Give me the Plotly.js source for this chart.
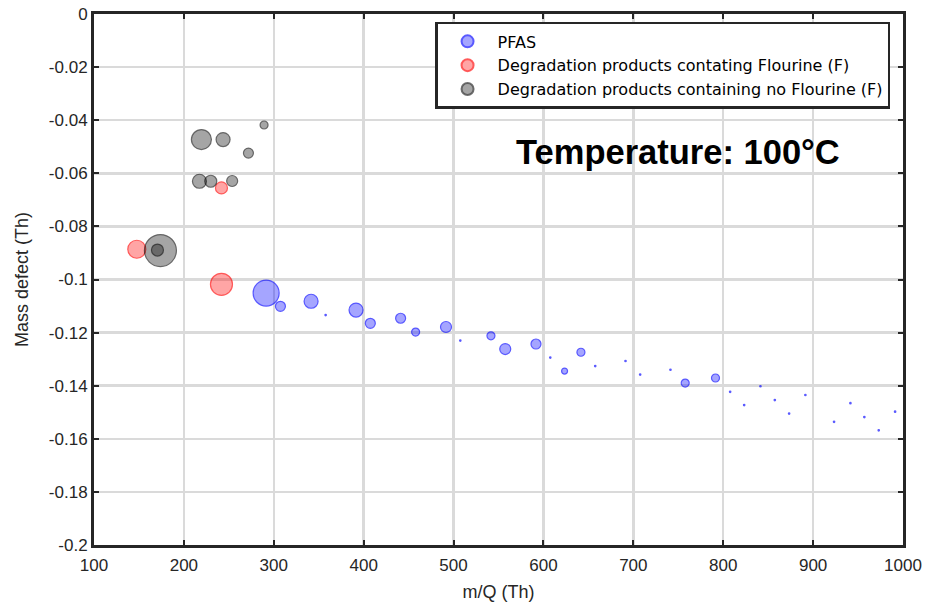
<!DOCTYPE html>
<html>
<head>
<meta charset="utf-8">
<script src="https://cdn.plot.ly/plotly-3.0.1.min.js"></script>
<style>html,body{margin:0;padding:0;background:#fff;}#chart{width:928px;height:607px;}</style>
</head>
<body>
<div id="chart"></div>
<script>
// PFAS
const pfasMz = [291.5, 307.4, 341.5, 357.7, 391.5, 407.4, 441.1, 457.8, 491.6, 507.5, 541.6, 557.5, 591.7, 607.6, 623.5, 641.7, 657.6, 691.3, 707.6, 741.3, 757.7, 791.4, 807.7, 823.3, 841.4, 857.4, 873.3, 891.4, 923.3, 941.5, 957.0, 973.0, 991.2];
const pfasMd = [-0.1051, -0.1101, -0.1082, -0.1134, -0.1115, -0.1165, -0.1146, -0.1198, -0.1179, -0.1230, -0.1212, -0.1262, -0.1243, -0.1294, -0.1345, -0.1274, -0.1326, -0.1307, -0.1358, -0.1340, -0.1390, -0.1371, -0.1423, -0.1473, -0.1402, -0.1454, -0.1505, -0.1435, -0.1536, -0.1466, -0.1518, -0.1568, -0.1498];
const pfasSize = [26, 10, 14, 1.5, 14, 10, 10, 8, 11, 1.5, 8, 11, 10, 1.5, 6, 8, 1.5, 1.5, 1.5, 1.5, 8, 8, 1.5, 1.5, 1.5, 1.5, 1.5, 1.5, 1.5, 1.5, 1.5, 1.5, 1.5];
// Degradation products containing F
const fMz = [241.8, 147.6, 241.8];
const fMd = [-0.0655, -0.0886, -0.1018];
const fSize = [12, 18, 22];
// Degradation products containing no F
const noFMz = [219.5, 243.6, 289.2, 271.8, 217.3, 229.9, 253.7, 173.9, 170.6];
const noFMd = [-0.0473, -0.0473, -0.0418, -0.0524, -0.0630, -0.0630, -0.0629, -0.0891, -0.0889];
const noFSize = [20, 14, 8, 10, 14, 12, 11, 32, 12];

const seriesNames = ['PFAS', 'Degradation products contating Flourine (F)', 'Degradation products containing no Flourine (F)'];
const xTicks = [100, 200, 300, 400, 500, 600, 700, 800, 900, 1000];
const yTicks = [0, -0.02, -0.04, -0.06, -0.08, -0.1, -0.12, -0.14, -0.16, -0.18, -0.2];
const yTickText = ['0', '-0.02', '-0.04', '-0.06', '-0.08', '-0.1', '-0.12', '-0.14', '-0.16', '-0.18', '-0.2'];

function tr(x, y, s, name, fill, line) {
  return {x: x, y: y, name: name, type: 'scatter', mode: 'markers',
    marker: {size: s, color: fill, line: {color: line, width: 1.2}}, hoverinfo: 'x+y'};
}
const data = [
  tr(pfasMz, pfasMd, pfasSize, seriesNames[0], 'rgba(0,0,255,0.5)', 'rgba(0,0,255,0.9)'),
  tr(fMz, fMd, fSize, seriesNames[1], 'rgba(255,0,0,0.5)', 'rgba(255,0,0,0.9)'),
  tr(noFMz, noFMd, noFSize, seriesNames[2], 'rgba(0,0,0,0.5)', 'rgba(0,0,0,0.8)')
];
const fam = 'Liberation Sans, Arial, sans-serif';
const axFont = {family: fam, size: 17, color: '#262626'};
const layout = {
  width: 928, height: 607,
  margin: {l: 94, r: 25, t: 14, b: 62},
  paper_bgcolor: '#fff', plot_bgcolor: '#fff',
  font: axFont,
  showlegend: true,
  legend: {x: 0.984, y: 0.985, xanchor: 'right', yanchor: 'top', bgcolor: '#fff',
    bordercolor: '#262626', borderwidth: 2.5, itemsizing: 'constant', itemwidth: 50,
    font: {family: 'DejaVu Sans, sans-serif', size: 16, color: '#000'},
    tracegroupgap: 0},
  xaxis: {range: [100, 1000], tickvals: xTicks, ticktext: xTicks.map(String),
    showgrid: true, gridcolor: '#dadada', gridwidth: 2.5, zeroline: false,
    showline: true, linecolor: '#262626', linewidth: 3, mirror: 'allticks',
    ticks: 'inside', ticklen: 5, tickwidth: 2, tickcolor: '#262626',
    tickfont: axFont, ticklabelstandoff: 3,
    title: {text: 'm/Q (Th)', font: {family: fam, size: 18, color: '#262626'}, standoff: 11}},
  yaxis: {range: [-0.2, 0], tickvals: yTicks, ticktext: yTickText,
    showgrid: true, gridcolor: '#dadada', gridwidth: 2.5, zeroline: false,
    showline: true, linecolor: '#262626', linewidth: 3, mirror: 'allticks',
    ticks: 'inside', ticklen: 5, tickwidth: 2, tickcolor: '#262626',
    tickfont: axFont,
    title: {text: 'Mass defect (Th)', font: {family: fam, size: 18, color: '#262626'}, standoff: 16}},
  annotations: [{text: '<b>Temperature: 100°C</b>', xref: 'paper', yref: 'paper',
    x: 0.722, y: 0.74, xanchor: 'center', yanchor: 'middle', showarrow: false,
    font: {family: fam, size: 34.5, color: '#000'}}]
};
Plotly.newPlot('chart', data, layout, {displayModeBar: false, staticPlot: true});
</script>
</body>
</html>
